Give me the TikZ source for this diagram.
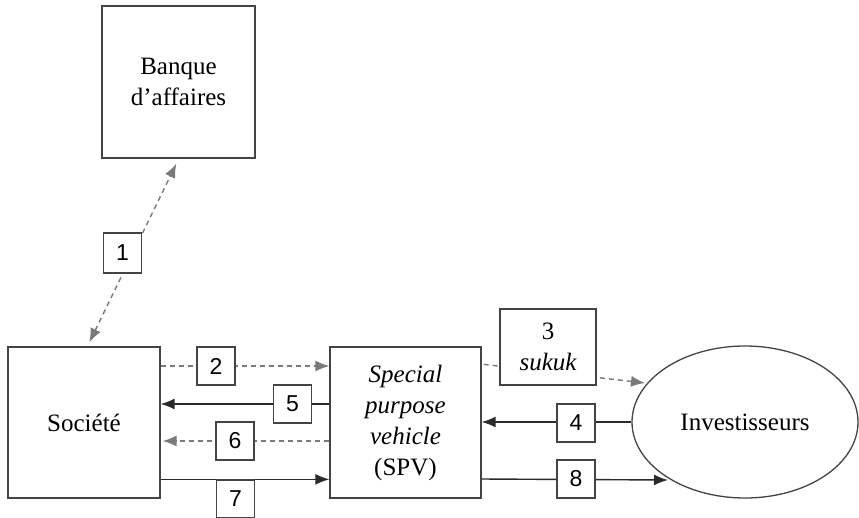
\documentclass[tikz,border=0pt]{standalone}
\usepackage{fontspec}
\setmainfont{Liberation Serif}
\setsansfont{Liberation Sans}
\usetikzlibrary{arrows.meta,shapes.geometric,backgrounds}
\definecolor{boxc}{HTML}{444444}
\definecolor{dashc}{HTML}{7A7A7A}
\definecolor{solidc}{HTML}{2A2A2A}
\tikzset{
  bigbox/.style={draw=boxc,line width=1.3pt,fill=white,rectangle,inner sep=0pt,
    align=center,font=\fontsize{25}{31}\selectfont},
  numbox/.style={draw=boxc,line width=1.3pt,fill=white,rectangle,inner sep=0pt,
    minimum width=38pt,minimum height=38pt,font=\sffamily\fontsize{23}{26}\selectfont},
  dashline/.style={draw=dashc,line width=1.4pt,dash pattern=on 5pt off 4pt,
    -{Latex[length=14pt,width=11pt]},color=dashc},
  solidline/.style={draw=solidc,line width=1.4pt,
    -{Latex[length=14pt,width=11pt]},color=solidc},
}
\begin{document}
\begin{tikzpicture}[x=1pt,y=-1pt]
\useasboundingbox (0,0) rectangle (859,517);
\clip (0,0) rectangle (859,517);
\node[bigbox,minimum width=153pt,minimum height=152pt] (banque) at (178.5,82) {Banque\\d’affaires};
\node[bigbox,minimum width=152pt,minimum height=151pt] (societe) at (84,422.5) {Société};
\node[bigbox,minimum width=151pt,minimum height=151pt] (spv) at (405.5,422.5)
  {\itshape Special\\\itshape purpose\\\itshape vehicle\\(SPV)};
\node[draw=boxc,line width=1.3pt,fill=white,ellipse,inner sep=0pt,
  minimum width=226pt,minimum height=152pt,font=\fontsize{25}{31}\selectfont] (inv) at (745,422) {Investisseurs};
\node[numbox,minimum height=40pt] (b1) at (122.5,253) {1};
\node[numbox] (b2) at (216,366) {2};
\node[bigbox,minimum width=96pt,minimum height=76pt] (b3) at (548,347) {3\\\itshape sukuk};
\node[numbox] (b4) at (576,423) {4};
\node[numbox] (b5) at (292.5,404) {5};
\node[numbox] (b6) at (235,441) {6};
\node[numbox] (b7) at (235.5,499) {7};
\node[numbox] (b8) at (576,479) {8};
\coordinate (i3) at (645,383);
\coordinate (i8) at (668,480);
\begin{pgfonlayer}{background}
\draw[dashline,{Latex[length=14pt,width=11pt]}-{Latex[length=14pt,width=11pt]}]
  ([xshift=82pt,yshift=4pt]societe.north west) -- ([xshift=75pt,yshift=-5pt]banque.south west);
\draw[dashline] (b2 -| societe.east) -- (b2 -| spv.west);
\draw[solidline] (b5 -| spv.west) -- (b5 -| societe.east);
\draw[dashline] (b6 -| spv.west) -- ([xshift=2pt]b6 -| societe.east);
\draw[solidline] (b7.north -| societe.east) -- (b7.north -| spv.west);
\draw[dashline] ([xshift=2pt,yshift=-18pt]spv.north east) -- (i3);
\draw[solidline] (inv.west) -- (inv.west -| spv.east);
\draw[solidline] (b8 -| spv.east) -- (i8);
\end{pgfonlayer}
\end{tikzpicture}
\end{document}
